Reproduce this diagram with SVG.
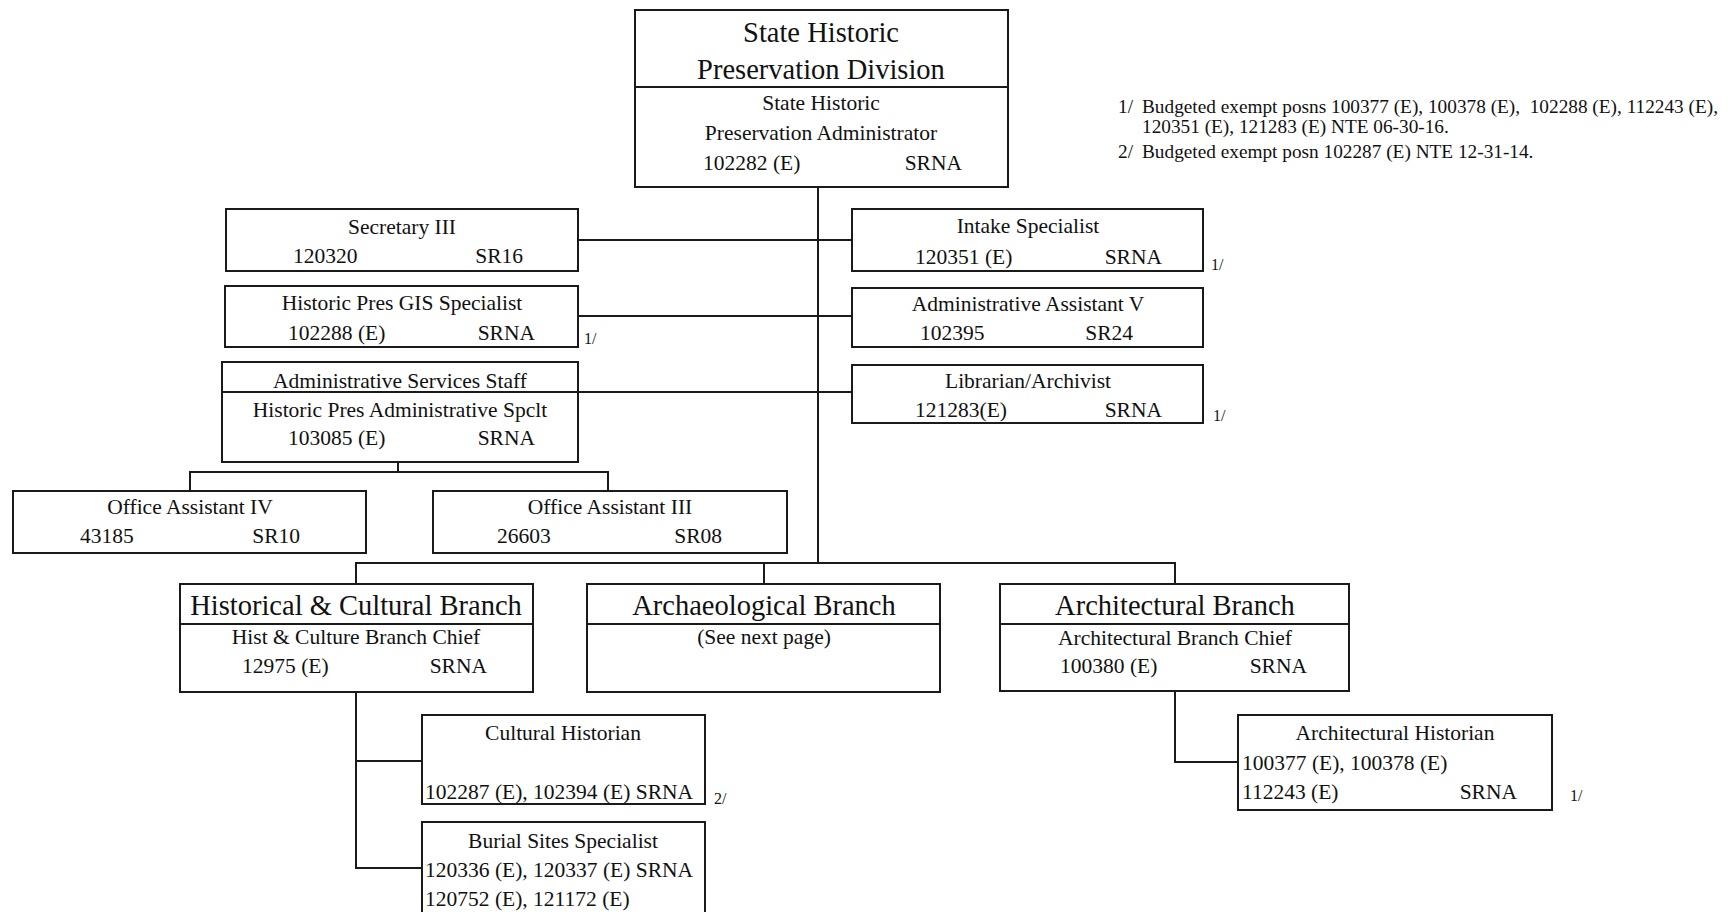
<svg xmlns="http://www.w3.org/2000/svg" width="1728" height="912" viewBox="0 0 1728 912">
<style>
.box{fill:#fff;stroke:#1a1a1a;stroke-width:2}
.ln{fill:none;stroke:#1a1a1a;stroke-width:2}
text{font-family:"Liberation Serif","Times New Roman",serif;fill:#111;font-size:21.5px}
.t{font-size:28.5px}
.c{text-anchor:middle}
.e{text-anchor:end}
.fn{font-size:19.3px}
.sm{font-size:16px}
</style>
<rect width="1728" height="912" fill="#fff"/>
<g id="connectors">
<path class="ln" d="M818 187V563"/>
<path class="ln" d="M578 240H852M578 316H852M578 392H852"/>
<path class="ln" d="M398 462V472M190 491V472H608V491"/>
<path class="ln" d="M356 584V563H1175V584M764 563V584"/>
<path class="ln" d="M356 692V868H422M356 761H422"/>
<path class="ln" d="M1175 691V762H1238"/>
</g>
<g id="n-division">
<rect class="box" x="635" y="10" width="373" height="177"/>
<path class="ln" d="M635 87H1008"/>
<text class="t c" x="821" y="42">State Historic</text>
<text class="t c" x="821" y="79">Preservation Division</text>
<text class="c" x="821" y="110">State Historic</text>
<text class="c" x="821" y="140">Preservation Administrator</text>
<text x="703" y="170">102282 (E)</text>
<text class="e" x="962" y="170">SRNA</text>
</g>
<g id="n-footnotes">
<text class="fn" x="1118" y="113">1/</text>
<text class="fn" x="1142" y="113" xml:space="preserve">Budgeted exempt posns 100377 (E), 100378 (E),  102288 (E), 112243 (E),</text>
<text class="fn" x="1142" y="133">120351 (E), 121283 (E) NTE 06-30-16.</text>
<text class="fn" x="1118" y="158">2/</text>
<text class="fn" x="1142" y="158">Budgeted exempt posn 102287 (E) NTE 12-31-14.</text>
</g>
<g id="n-secretary">
<rect class="box" x="226" y="209" width="352" height="62"/>
<text class="c" x="402" y="234">Secretary III</text>
<text x="293" y="263">120320</text>
<text class="e" x="523" y="263">SR16</text>
</g>
<g id="n-gis">
<rect class="box" x="225" y="286" width="353" height="61"/>
<text class="c" x="402" y="310">Historic Pres GIS Specialist</text>
<text x="288" y="340">102288 (E)</text>
<text class="e" x="535" y="340">SRNA</text>
<text class="sm" x="584" y="344">1/</text>
</g>
<g id="n-adminsvc">
<rect class="box" x="222" y="362" width="356" height="100"/>
<path class="ln" d="M222 392H578"/>
<text class="c" x="400" y="388">Administrative Services Staff</text>
<text class="c" x="400" y="417">Historic Pres Administrative Spclt</text>
<text x="288" y="445">103085 (E)</text>
<text class="e" x="535" y="445">SRNA</text>
</g>
<g id="n-intake">
<rect class="box" x="852" y="209" width="351" height="62"/>
<text class="c" x="1028" y="233">Intake Specialist</text>
<text x="915" y="264">120351 (E)</text>
<text class="e" x="1162" y="264">SRNA</text>
<text class="sm" x="1211" y="270">1/</text>
</g>
<g id="n-adminasst">
<rect class="box" x="852" y="288" width="351" height="59"/>
<text class="c" x="1028" y="311">Administrative Assistant V</text>
<text x="920" y="340">102395</text>
<text class="e" x="1133" y="340">SR24</text>
</g>
<g id="n-librarian">
<rect class="box" x="852" y="365" width="351" height="58"/>
<text class="c" x="1028" y="388">Librarian/Archivist</text>
<text x="915" y="417">121283(E)</text>
<text class="e" x="1162" y="417">SRNA</text>
<text class="sm" x="1213" y="421">1/</text>
</g>
<g id="n-oa4">
<rect class="box" x="13" y="491" width="353" height="62"/>
<text class="c" x="190" y="514">Office Assistant IV</text>
<text x="80" y="543">43185</text>
<text class="e" x="300" y="543">SR10</text>
</g>
<g id="n-oa3">
<rect class="box" x="433" y="491" width="354" height="62"/>
<text class="c" x="610" y="514">Office Assistant III</text>
<text x="497" y="543">26603</text>
<text class="e" x="722" y="543">SR08</text>
</g>
<g id="n-hist">
<rect class="box" x="180" y="584" width="353" height="108"/>
<path class="ln" d="M180 624H533"/>
<text class="t c" x="356" y="615">Historical &amp; Cultural Branch</text>
<text class="c" x="356" y="644">Hist &amp; Culture Branch Chief</text>
<text x="242" y="673">12975 (E)</text>
<text class="e" x="487" y="673">SRNA</text>
</g>
<g id="n-arch">
<rect class="box" x="587" y="584" width="353" height="108"/>
<path class="ln" d="M587 624H940"/>
<text class="t c" x="764" y="615">Archaeological Branch</text>
<text class="c" x="764" y="644">(See next page)</text>
</g>
<g id="n-architectural">
<rect class="box" x="1000" y="584" width="349" height="107"/>
<path class="ln" d="M1000 624H1349"/>
<text class="t c" x="1175" y="615">Architectural Branch</text>
<text class="c" x="1175" y="645">Architectural Branch Chief</text>
<text x="1060" y="673">100380 (E)</text>
<text class="e" x="1307" y="673">SRNA</text>
</g>
<g id="n-archhist">
<rect class="box" x="1238" y="715" width="314" height="95"/>
<text class="c" x="1395" y="740">Architectural Historian</text>
<text x="1242" y="770">100377 (E), 100378 (E)</text>
<text x="1242" y="799">112243 (E)</text>
<text class="e" x="1517" y="799">SRNA</text>
<text class="sm" x="1570" y="801">1/</text>
</g>
<g id="n-cultural">
<rect class="box" x="422" y="715" width="283" height="89"/>
<text class="c" x="563" y="740">Cultural Historian</text>
<text x="425" y="799">102287 (E), 102394 (E) SRNA</text>
<text class="sm" x="714" y="804">2/</text>
</g>
<g id="n-burial">
<rect class="box" x="422" y="822" width="283" height="110"/>
<text class="c" x="563" y="848">Burial Sites Specialist</text>
<text x="425" y="877">120336 (E), 120337 (E) SRNA</text>
<text x="425" y="906">120752 (E), 121172 (E)</text>
</g>
</svg>
